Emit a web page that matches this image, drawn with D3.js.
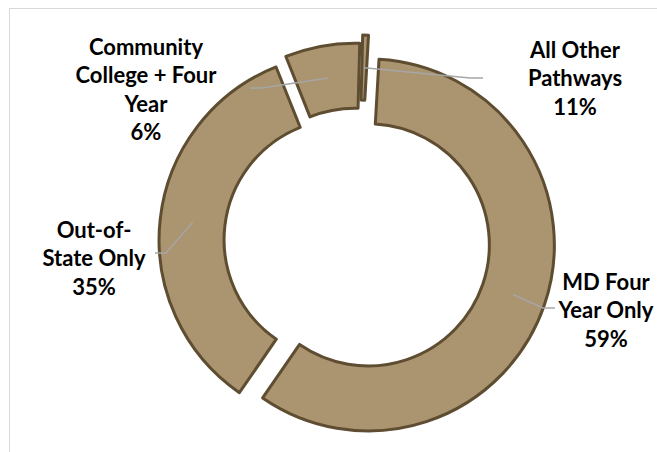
<!DOCTYPE html>
<html lang="en">
<head>
    <meta charset="UTF-8">
    <title>Pathways doughnut</title>
    <style>
        body { margin: 0; background: #fff; }
        svg { display: block; }
        .slice { fill: #ab9470; stroke: #5e4d31; stroke-width: 3px; stroke-linejoin: round; }
        .leader { fill: none; stroke: #a6a6a6; stroke-width: 1.5px; }
        .lbl { font-family: Lato, "Open Sans", sans-serif; font-weight: bold; font-size: 22px; fill: #000; text-anchor: middle; }
    </style>
</head>
<body>
<svg id="chart" width="657" height="452"></svg>
<script src="https://cdn.jsdelivr.net/npm/d3@7"></script>
<script>
    // data (slice sizes in percent, labels as printed)
    const categories = ["All Other Pathways", "MD Four Year Only", "Out-of-State Only", "Community College + Four Year"];
    const values = [0.5, 59, 34.5, 6.5];
    const pctLabels = ["11%", "59%", "35%", "6%"];
    const labelLines = [["All Other", "Pathways"], ["MD Four", "Year Only"], ["Out-of-", "State Only"], ["Community", "College + Four", "Year"]];

    // layout
    const cx = 357, cy = 241, outerR = 186, innerR = 121;
    const firstAngle = 1.5 * Math.PI / 180;
    const explode = [20, 12, 12, 12];
    const lineH = 28.5;
    // label block centre (first line) and leader line elbow / end per slice
    const labelAt = [
        {x: 575, y: 50, elbow: [470, 78], end: [483, 78]},
        {x: 606, y: 282, elbow: [543, 308], end: [555, 308]},
        {x: 94, y: 230, elbow: [166, 253], end: [155, 253]},
        {x: 146, y: 47, elbow: [262, 88], end: [250, 88]}
    ];

    const svg = d3.select("#chart");

    // chart area border (runs off the right and bottom)
    svg.append("rect")
        .attr("x", 9.5).attr("y", 8.5)
        .attr("width", 700).attr("height", 500)
        .attr("fill", "none")
        .attr("stroke", "#d9d9d9");

    const pie = d3.pie().sort(null).value(d => d)
        .startAngle(firstAngle).endAngle(firstAngle + 2 * Math.PI);
    const arcs = pie(values);
    const arc = d3.arc().innerRadius(innerR).outerRadius(outerR);

    const g = svg.append("g").attr("transform", `translate(${cx},${cy})`);

    const off = (d, i) => {
        const mid = (d.startAngle + d.endAngle) / 2;
        return [Math.sin(mid) * explode[i], -Math.cos(mid) * explode[i]];
    };

    g.selectAll("path.slice")
        .data(arcs)
        .enter().append("path")
        .attr("class", "slice")
        .attr("transform", (d, i) => `translate(${off(d, i)})`)
        .attr("d", arc);

    // leader lines from each slice centroid
    const line = d3.line();
    svg.selectAll("path.leader")
        .data(arcs)
        .enter().append("path")
        .attr("class", "leader")
        .attr("d", (d, i) => {
            const c = arc.centroid(d), o = off(d, i);
            const p0 = [cx + c[0] + o[0], cy + c[1] + o[1]];
            return line([p0, labelAt[i].elbow, labelAt[i].end]);
        });

    // data labels
    arcs.forEach((d, i) => {
        const t = svg.append("text").attr("class", "lbl");
        const rows = labelLines[i].concat([pctLabels[i]]);
        rows.forEach((s, k) => {
            t.append("tspan")
                .attr("x", labelAt[i].x)
                .attr("y", labelAt[i].y + k * lineH + 7.5)
                .text(s);
        });
    });
</script>
</body>
</html>
